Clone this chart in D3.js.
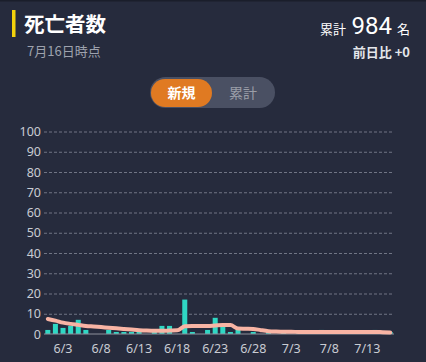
<!DOCTYPE html>
<html>
<head>
<meta charset="utf-8">
<script src="https://cdn.jsdelivr.net/npm/d3@7"></script>
<style>
  html, body { margin: 0; padding: 0; background: #262b3d; }
  svg { display: block; font-family: "Noto Sans CJK JP", "Noto Sans", sans-serif; }
</style>
</head>
<body>
<div id="chart"></div>
<script>
// daily deaths 6/1 - 7/16
const days = ["6/1","6/2","6/3","6/4","6/5","6/6","6/7","6/8","6/9","6/10",
  "6/11","6/12","6/13","6/14","6/15","6/16","6/17","6/18","6/19","6/20",
  "6/21","6/22","6/23","6/24","6/25","6/26","6/27","6/28","6/29","6/30",
  "7/1","7/2","7/3","7/4","7/5","7/6","7/7","7/8","7/9","7/10",
  "7/11","7/12","7/13","7/14","7/15","7/16"];
const daily = [2,5,3,4,7,2,0,0,2,1,
  1,1,1,0,1,4,4,0,17,1,
  0,2,8,4,1,2,0,1,0,1,
  0,1,0,1,0,1,2,1,1,0,
  1,0,1,2,0,1];
// 7-day average line
const average = [7.4,6.6,5.6,5.0,4.5,4.0,3.7,3.4,3.1,2.8,
  2.5,2.2,1.9,1.7,1.6,1.6,1.7,1.8,3.8,4.0,
  4.0,4.0,4.2,4.4,4.4,2.7,2.6,2.5,1.9,1.4,
  1.2,1.1,1.1,1.0,1.0,1.0,1.0,1.0,1.0,1.0,
  1.0,1.0,1.0,1.0,0.9,0.8];
const yTicks = [0,10,20,30,40,50,60,70,80,90,100];
const xTickLabels = ["6/3","6/8","6/13","6/18","6/23","6/28","7/3","7/8","7/13"];

const width = 426, height = 362;
const svg = d3.select('#chart').append('svg')
    .attr('width', width)
    .attr('height', height);

svg.append('rect').attr('width', width).attr('height', height).attr('fill', '#262b3d');
svg.append('rect').attr('width', width).attr('height', 1.5).attr('fill', '#1a1e2b');

// header
svg.append('rect').attr('x', 12).attr('y', 10).attr('width', 3.5).attr('height', 27).attr('fill', '#f2d20c');
svg.append('text').attr('x', 24).attr('y', 32)
    .attr('fill', '#ffffff').attr('font-size', 20.5).attr('font-weight', 'bold')
    .text('死亡者数');
svg.append('text').attr('x', 27).attr('y', 56)
    .attr('fill', '#9ea2ae').attr('font-size', 13)
    .text('7月16日時点');

svg.append('text').attr('x', 346).attr('y', 34)
    .attr('text-anchor', 'end').attr('fill', '#ffffff').attr('font-size', 13)
    .text('累計');
svg.append('text').attr('x', 392).attr('y', 34)
    .attr('text-anchor', 'end').attr('fill', '#ffffff').attr('font-size', 24)
    .attr('font-family', 'Roboto, "Noto Sans", sans-serif')
    .text('984');
svg.append('text').attr('x', 410).attr('y', 34)
    .attr('text-anchor', 'end').attr('fill', '#ffffff').attr('font-size', 13)
    .text('名');
svg.append('text').attr('x', 410).attr('y', 57)
    .attr('text-anchor', 'end').attr('fill', '#e4e6ea')
    .attr('font-size', 13).attr('font-weight', 'bold')
    .text('前日比 +0');

// toggle
svg.append('rect').attr('x', 150).attr('y', 77).attr('width', 125).attr('height', 31).attr('rx', 15.5)
    .attr('fill', '#4a5063');
svg.append('rect').attr('x', 151).attr('y', 79).attr('width', 61).attr('height', 28).attr('rx', 14)
    .attr('fill', '#e07a22');
svg.append('text').attr('x', 181.5).attr('y', 98).attr('text-anchor', 'middle')
    .attr('fill', '#ffffff').attr('font-size', 14).attr('font-weight', 'bold').text('新規');
svg.append('text').attr('x', 243).attr('y', 98).attr('text-anchor', 'middle')
    .attr('fill', '#9a9ea8').attr('font-size', 14).text('累計');

// chart
const x = d3.scaleBand().domain(days).range([44, 394]).paddingInner(0.34).paddingOuter(0.17);
const y = d3.scaleLinear().domain([0, 100]).range([334, 131.5]);

const yAxis = svg.append('g')
    .attr('transform', 'translate(44,0)')
    .call(d3.axisLeft(y).tickValues(yTicks).tickSize(-350).tickPadding(3));
yAxis.select('.domain').remove();
yAxis.selectAll('.tick line')
    .attr('stroke', '#707585')
    .attr('stroke-dasharray', '3,2')
    .filter(d => d === 0).remove();
yAxis.selectAll('.tick text')
    .attr('fill', '#c9ccd3').attr('font-size', 12.5)
    .attr('font-family', '"Noto Sans", sans-serif');

svg.append('g').selectAll('rect')
    .data(daily)
    .enter().append('rect')
    .attr('x', (d, i) => x(days[i]))
    .attr('y', d => y(d))
    .attr('width', x.bandwidth())
    .attr('height', d => y(0) - y(d))
    .attr('fill', '#2fd8c4');

svg.append('line')
    .attr('x1', 44).attr('x2', 394)
    .attr('y1', y(0)).attr('y2', y(0))
    .attr('stroke', '#8d919c').attr('stroke-width', 1);

const line = d3.line()
    .x((d, i) => x(days[i]) + x.bandwidth() / 2)
    .y(d => y(d))
    .curve(d3.curveMonotoneX);
svg.append('path')
    .datum(average)
    .attr('d', line)
    .attr('fill', 'none')
    .attr('stroke', '#f8b4a4')
    .attr('stroke-width', 4)
    .attr('stroke-linecap', 'round');

const xAxis = svg.append('g')
    .attr('transform', `translate(0,${y(0)})`)
    .call(d3.axisBottom(x).tickValues(xTickLabels).tickSize(0).tickPadding(10));
xAxis.select('.domain').remove();
xAxis.selectAll('.tick text')
    .attr('fill', '#c9ccd3').attr('font-size', 12.5)
    .attr('font-family', '"Noto Sans", sans-serif');
</script>
</body>
</html>
